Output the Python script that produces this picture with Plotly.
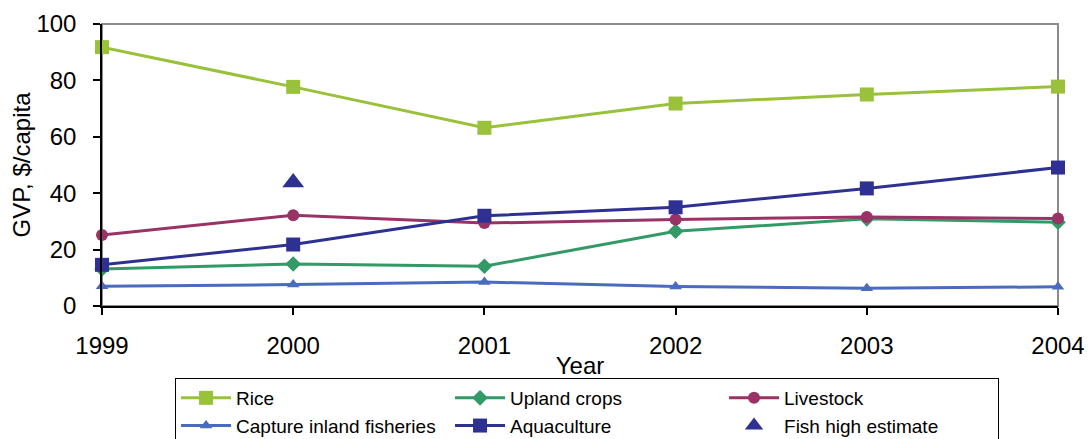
import plotly.graph_objects as go

years = [1999, 2000, 2001, 2002, 2003, 2004]
rice = [91.8, 77.7, 63.2, 71.8, 75.0, 77.8]
upland = [13.1, 14.9, 14.1, 26.5, 30.9, 29.7]
livestock = [25.2, 32.2, 29.4, 30.7, 31.6, 31.0]
capture = [7.0, 7.6, 8.5, 6.9, 6.3, 6.8]
aquaculture = [14.6, 21.8, 32.0, 35.0, 41.7, 49.1]
fish_high_year = [2000]
fish_high = [43.8]

FONT = "Liberation Sans, Arial, sans-serif"

series = [
    ("Rice", rice, "#99C13A", "square", 14),
    ("Upland crops", upland, "#339966", "diamond", 12),
    ("Livestock", livestock, "#993366", "circle", 12),
    ("Capture inland fisheries", capture, "#4A6CBE", "triangle-up", 11),
    ("Aquaculture", aquaculture, "#2E3192", "square", 14),
]

fig = go.Figure()
for name, vals, color, sym, size in series:
    fig.add_trace(go.Scatter(
        x=years, y=vals, name=name, mode="lines+markers",
        line=dict(color=color, width=3),
        marker=dict(symbol=sym, size=size, color=color),
        cliponaxis=False,
    ))
fig.add_trace(go.Scatter(
    x=fish_high_year, y=fish_high, name="Fish high estimate", mode="markers",
    marker=dict(symbol="triangle-up", size=19, color="#2E3192"),
    cliponaxis=False,
))

# gray frame (top & right)
fig.add_shape(type="rect", xref="paper", yref="paper", x0=0, x1=1, y0=0, y1=1,
              line=dict(color="#8C8C8C", width=2), layer="below")

# page has an 8px body margin, so the figure is 1084x431
fig.update_layout(
    width=1084, height=431,
    margin=dict(l=94, r=34, t=16, b=133, autoexpand=False),
    paper_bgcolor="white", plot_bgcolor="white",
    font=dict(family=FONT, color="black", size=24),
    showlegend=True,
    legend=dict(
        orientation="h", x=0.0764, xanchor="left", y=-0.2553, yanchor="top",
        bordercolor="black", borderwidth=1,
        font=dict(size=19, family=FONT),
        entrywidth=209, entrywidthmode="pixels",
        itemwidth=50, tracegroupgap=0,
    ),
    xaxis=dict(
        range=[1999, 2004], tickvals=years, ticktext=[str(y) for y in years],
        showgrid=False, zeroline=False, automargin=False,
        showline=True, linecolor="black", linewidth=1.5,
        ticks="outside", ticklen=7, tickcolor="black", tickwidth=1.5,
        tickfont=dict(size=24), ticklabelstandoff=10,
        title=dict(text="Year", font=dict(size=24), standoff=0),
    ),
    yaxis=dict(
        range=[0, 100], dtick=20,
        showgrid=False, zeroline=False, automargin=False,
        showline=True, linecolor="black", linewidth=1.5,
        ticks="outside", ticklen=7, tickcolor="black", tickwidth=1.5,
        tickfont=dict(size=24), ticklabelstandoff=12,
        title=dict(text="GVP, $/capita", font=dict(size=24), standoff=3),
    ),
)

fig.write_html("out.html")
